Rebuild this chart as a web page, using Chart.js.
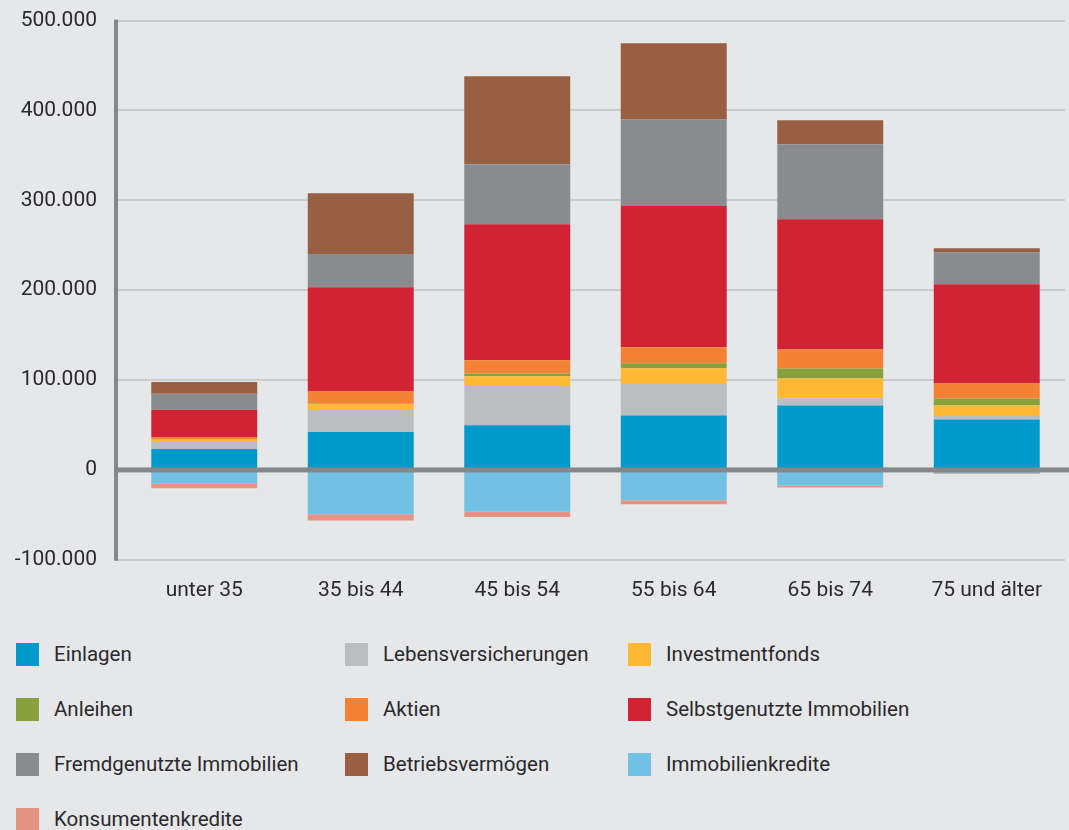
<!DOCTYPE html>
<html lang="de">
<head>
<meta charset="utf-8">
<title>Vermögen nach Altersgruppen</title>
<script src="https://cdn.jsdelivr.net/npm/chart.js@4"></script>
<style>
  html, body { margin: 0; padding: 0; background: #e6e7e9; }
  #wrap { position: relative; width: 1069px; height: 830px; overflow: hidden; }
  #chart { position: absolute; left: 0; top: -11px; }
  #legend {
    position: absolute; left: 16px; top: 643px;
    display: grid; grid-template-columns: 329px 283px auto; grid-auto-rows: 55px;
    font-family: Roboto, sans-serif; font-size: 20.5px; color: #2a292d;
  }
  #legend .item { display: flex; align-items: flex-start; }
  #legend .box { width: 23px; height: 23px; flex: none; }
  #legend .txt { margin-left: 15px; line-height: 23px; white-space: nowrap; }
</style>
</head>
<body>
<div id="wrap">
  <canvas id="chart" width="1069" height="624"></canvas>
  <div id="legend"></div>
</div>
<script>
var categories = ['unter 35', '35 bis 44', '45 bis 54', '55 bis 64', '65 bis 74', '75 und älter'];

var einlagen = [23200, 42100, 49600, 60700, 71800, 56200];
var lebensversicherungen = [7800, 24500, 43800, 34900, 8100, 3700];
var investmentfonds = [2700, 7100, 10800, 17500, 21900, 11900];
var anleihen = [300, 700, 3000, 5600, 11100, 7800];
var aktien = [2600, 13000, 14800, 17800, 21200, 16700];
var selbstgenutzt = [30400, 115800, 151400, 157300, 144800, 110200];
var fremdgenutzt = [17800, 37100, 66800, 96500, 83500, 35600];
var betriebsvermoegen = [13000, 67600, 98000, 84600, 26700, 4500];
var immobilienkredite = [-15400, -49200, -46500, -33600, -17300, -3800];
var konsumentenkredite = [-4900, -7000, -6000, -4500, -2200, -800];

var yMin = -100000;
var yMax = 500000;
var yStep = 100000;

function fmt(v) {
    return String(v).replace(/\B(?=(\d{3})+(?!\d))/g, '.');
}

function ds(label, data, color) {
    return {
        label: label,
        data: data,
        backgroundColor: color,
        borderWidth: 0,
        barPercentage: 0.677,
        categoryPercentage: 1
    };
}

// y axis line and the zero line lie on top of the bars
var axisLines = {
    id: 'axisLines',
    afterDatasetsDraw: function (chart) {
        var ctx = chart.ctx;
        var area = chart.chartArea;
        var x0 = area.left - 10;
        var z = chart.scales.y.getPixelForValue(0);
        ctx.save();
        ctx.fillStyle = '#86878b';
        ctx.fillRect(x0 - 2, area.top - 1, 4, area.bottom - area.top + 2);
        ctx.fillRect(x0, z - 2.5, chart.width - x0, 5);
        ctx.restore();
    }
};

var ctx = document.getElementById('chart').getContext('2d');

var chart = new Chart(ctx, {
    type: 'bar',
    data: {
        labels: categories,
        datasets: [
            ds('Einlagen', einlagen, '#0099cc'),
            ds('Lebensversicherungen', lebensversicherungen, '#bcbdc1'),
            ds('Investmentfonds', investmentfonds, '#fdb933'),
            ds('Anleihen', anleihen, '#89a13c'),
            ds('Aktien', aktien, '#f48235'),
            ds('Selbstgenutzte Immobilien', selbstgenutzt, '#d12333'),
            ds('Fremdgenutzte Immobilien', fremdgenutzt, '#8a8b8f'),
            ds('Betriebsvermögen', betriebsvermoegen, '#985f42'),
            ds('Immobilienkredite', immobilienkredite, '#70c1e3'),
            ds('Konsumentenkredite', konsumentenkredite, '#e69383')
        ]
    },
    options: {
        responsive: false,
        animation: false,
        layout: { padding: { top: 9, right: 4, bottom: 0, left: 0 } },
        plugins: {
            legend: { display: false },
            tooltip: { enabled: false }
        },
        scales: {
            x: {
                stacked: true,
                grid: { display: false },
                border: { display: false },
                ticks: {
                    color: '#2a292d',
                    padding: 10,
                    font: { family: 'Roboto', size: 21 }
                }
            },
            y: {
                stacked: true,
                min: yMin,
                max: yMax,
                border: { display: false },
                grid: {
                    color: '#cacbcd',
                    lineWidth: 2,
                    drawTicks: true,
                    tickLength: 10
                },
                ticks: {
                    stepSize: yStep,
                    color: '#2a292d',
                    padding: 19,
                    font: { family: 'Roboto', size: 21 },
                    callback: function (v) { return fmt(v); }
                },
                afterFit: function (scale) { scale.width = 126; }
            }
        }
    },
    plugins: [axisLines]
});

var legend = document.getElementById('legend');
chart.data.datasets.forEach(function (d) {
    var item = document.createElement('div');
    item.className = 'item';
    var box = document.createElement('span');
    box.className = 'box';
    box.style.background = d.backgroundColor;
    var txt = document.createElement('span');
    txt.className = 'txt';
    txt.textContent = d.label;
    item.appendChild(box);
    item.appendChild(txt);
    legend.appendChild(item);
});
</script>
</body>
</html>
